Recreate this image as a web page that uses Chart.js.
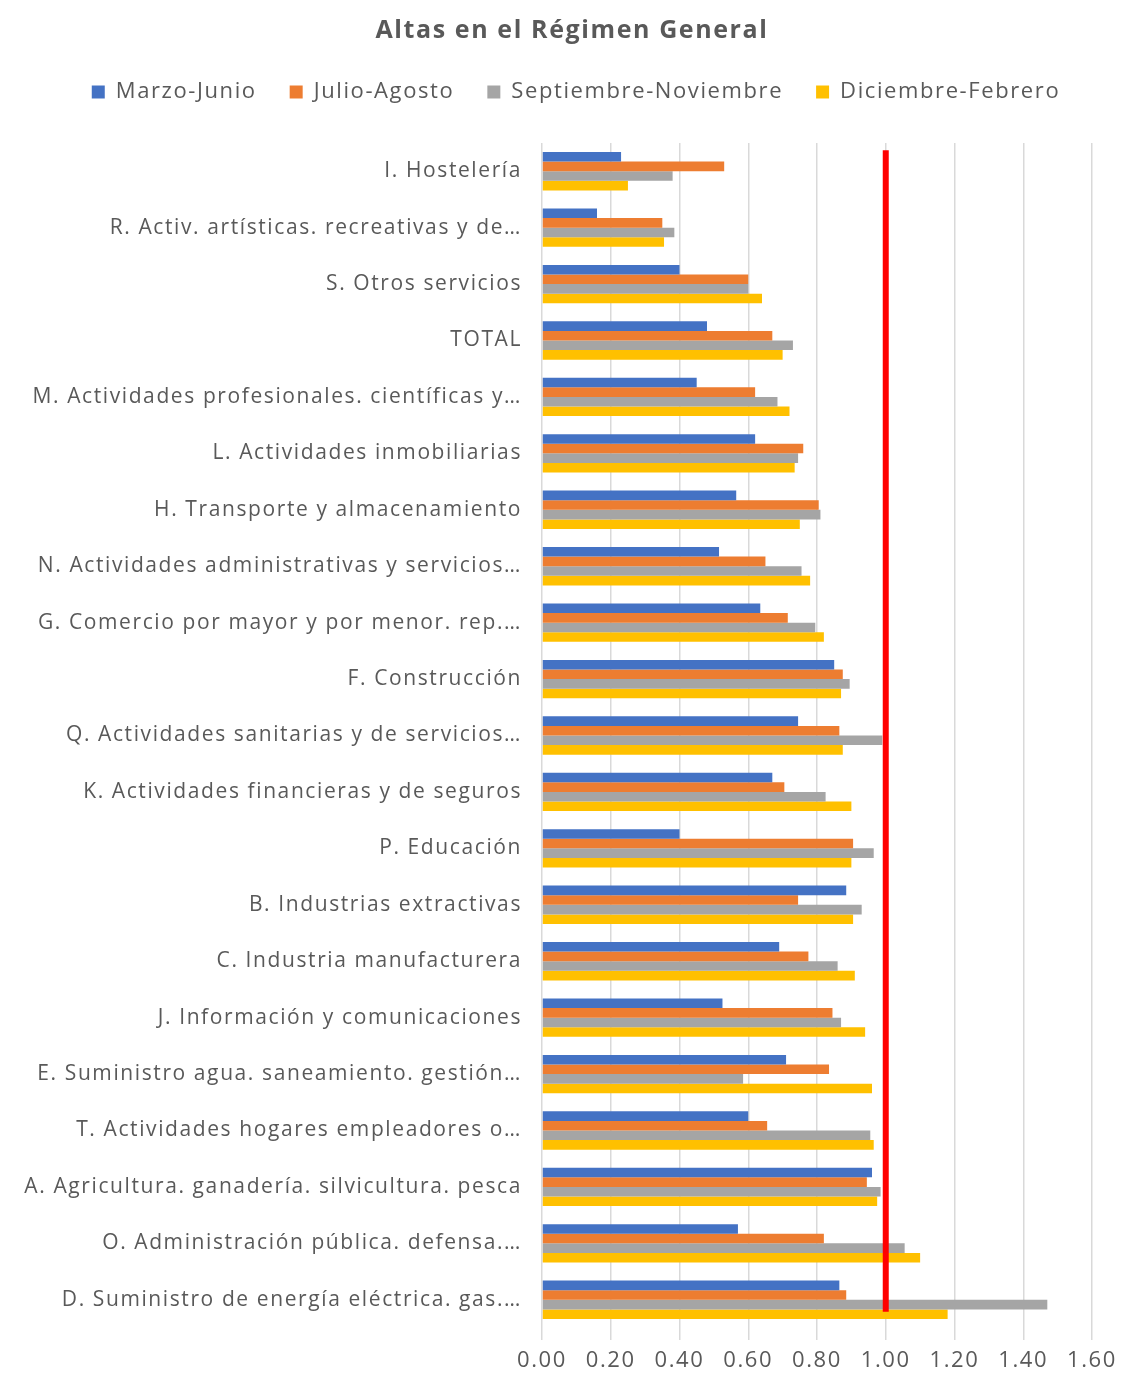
<!DOCTYPE html>
<html lang="es">
<head>
<meta charset="utf-8">
<title>Altas en el Régimen General</title>
<script src="https://cdn.jsdelivr.net/npm/chart.js@4/dist/chart.umd.min.js"></script>
<style>
  html, body { margin: 0; padding: 0; background: #ffffff; }
  #wrap { width: 1135px; height: 1378px; position: relative; }
</style>
</head>
<body>
<div id="wrap"><canvas id="chart"></canvas></div>
<script>
// Sectores de actividad (de arriba abajo)
const categories = [
  'I. Hostelería',
  'R. Activ. artísticas. recreativas y de…',
  'S. Otros servicios',
  'TOTAL',
  'M. Actividades profesionales. científicas y…',
  'L. Actividades inmobiliarias',
  'H. Transporte y almacenamiento',
  'N. Actividades administrativas y servicios…',
  'G. Comercio por mayor y por menor. rep.…',
  'F. Construcción',
  'Q. Actividades sanitarias y de servicios…',
  'K. Actividades financieras y de seguros',
  'P. Educación',
  'B. Industrias extractivas',
  'C. Industria manufacturera',
  'J. Información y comunicaciones',
  'E. Suministro agua. saneamiento. gestión…',
  'T. Actividades hogares empleadores o…',
  'A. Agricultura. ganadería. silvicultura. pesca',
  'O. Administración pública. defensa.…',
  'D. Suministro de energía eléctrica. gas.…'
];

const seriesNames = ['Marzo-Junio', 'Julio-Agosto', 'Septiembre-Noviembre', 'Diciembre-Febrero'];

const marzoJunio = [0.23, 0.16, 0.40, 0.48, 0.45, 0.62, 0.565, 0.515, 0.635, 0.85, 0.745,
  0.67, 0.40, 0.885, 0.69, 0.525, 0.71, 0.60, 0.96, 0.57, 0.865];
const julioAgosto = [0.53, 0.35, 0.60, 0.67, 0.62, 0.76, 0.805, 0.65, 0.715, 0.875, 0.865,
  0.705, 0.905, 0.745, 0.775, 0.845, 0.835, 0.655, 0.945, 0.82, 0.885];
const septiembreNoviembre = [0.38, 0.385, 0.60, 0.73, 0.685, 0.745, 0.81, 0.755, 0.795, 0.895, 0.99,
  0.825, 0.965, 0.93, 0.86, 0.87, 0.585, 0.955, 0.985, 1.055, 1.47];
const diciembreFebrero = [0.25, 0.355, 0.64, 0.70, 0.72, 0.735, 0.75, 0.78, 0.82, 0.87, 0.875,
  0.90, 0.90, 0.905, 0.91, 0.94, 0.96, 0.965, 0.975, 1.10, 1.18];

const xTickLabels = ['0.00', '0.20', '0.40', '0.60', '0.80', '1.00', '1.20', '1.40', '1.60'];
const referenceLevel = 1.0;

const seriesColors = ['#4472C4', '#ED7D31', '#A5A5A5', '#FFC000'];
const textColor = '#595959';
const fontFamily = '"Open Sans", "Noto Sans", sans-serif';
const textTracking = '1.6px';

// Espaciado entre letras para todos los textos del lienzo
const tracking = {
  id: 'tracking',
  beforeUpdate(chart) { chart.ctx.letterSpacing = textTracking; },
  beforeDraw(chart) { chart.ctx.letterSpacing = textTracking; }
};

// Línea vertical roja en el nivel de referencia
const referenceLine = {
  id: 'referenceLine',
  afterDatasetsDraw(chart) {
    const { ctx, scales: { x, y } } = chart;
    const px = x.getPixelForValue(referenceLevel);
    const band = y.getPixelForValue(1) - y.getPixelForValue(0);
    const top = y.getPixelForValue(0) - band * 0.37;
    const bottom = y.getPixelForValue(categories.length - 1) + band * 0.21;
    ctx.save();
    ctx.strokeStyle = '#FF0000';
    ctx.lineWidth = 6;
    ctx.beginPath();
    ctx.moveTo(px, top);
    ctx.lineTo(px, bottom);
    ctx.stroke();
    ctx.restore();
  }
};

// Espacio bajo la leyenda y centrado de título y leyenda sobre la página
const legendSpacing = 30;
const titleShift = 26;
const legendShift = 30;
const headerLayout = {
  id: 'headerLayout',
  beforeUpdate(chart) {
    const lg = chart.legend;
    if (lg && !lg._gapPatched) {
      const fitOriginal = lg.fit.bind(lg);
      lg.fit = function () { fitOriginal(); this.height += legendSpacing; };
      lg._gapPatched = true;
    }
  },
  afterLayout(chart) {
    if (chart.titleBlock) {
      chart.titleBlock.left += titleShift;
      chart.titleBlock.right += titleShift;
    }
    if (chart.legend) {
      chart.legend.left += legendShift;
      chart.legend.right += legendShift;
    }
  }
};

const seriesData = [marzoJunio, julioAgosto, septiembreNoviembre, diciembreFebrero];

new Chart(document.getElementById('chart'), {
  type: 'bar',
  data: {
    labels: categories,
    datasets: seriesNames.map((name, i) => ({
      label: name,
      data: seriesData[i],
      backgroundColor: seriesColors[i],
      borderWidth: 0,
      barPercentage: 1.0,
      categoryPercentage: 0.68
    }))
  },
  plugins: [tracking, referenceLine, headerLayout],
  options: {
    indexAxis: 'y',
    responsive: true,
    maintainAspectRatio: false,
    animation: false,
    layout: { padding: { left: 0, right: 43, top: 0, bottom: 0 } },
    plugins: {
      title: {
        display: true,
        text: 'Altas en el Régimen General',
        color: textColor,
        font: { family: fontFamily, size: 25, weight: 'bold', lineHeight: 1.0 },
        padding: { top: 18, bottom: 5 }
      },
      legend: {
        display: true,
        position: 'top',
        labels: {
          color: textColor,
          font: { family: fontFamily, size: 22 },
          boxWidth: 13,
          boxHeight: 13,
          padding: 33
        }
      },
      tooltip: { enabled: false }
    },
    scales: {
      x: {
        min: 0,
        max: 1.6,
        ticks: {
          stepSize: 0.2,
          color: textColor,
          font: { family: fontFamily, size: 22 },
          padding: 8,
          callback: (v, i) => xTickLabels[i]
        },
        grid: { color: '#D9D9D9', lineWidth: 1.5, tickLength: 12, drawTicks: true },
        border: { display: false },
        afterFit(scale) { scale.height = 50; }
      },
      y: {
        ticks: {
          color: textColor,
          font: { family: fontFamily, size: 21 },
          padding: 12
        },
        grid: { display: false },
        border: { display: false },
        afterFit(scale) { scale.width = 542; }
      }
    }
  }
});
</script>
</body>
</html>
